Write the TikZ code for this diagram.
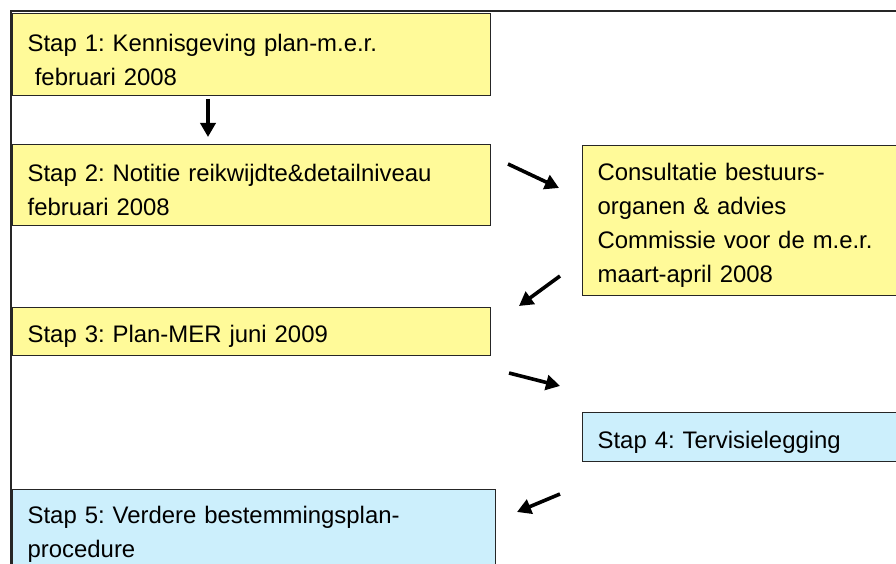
\documentclass[tikz,border=0pt]{standalone}
\usepackage{fontspec}
\setmainfont{Liberation Sans}
\usetikzlibrary{arrows.meta}

\begin{document}
\begin{tikzpicture}[x=1pt,y=-1pt]
\tikzset{basic/.style={draw=black!85, line width=1.3pt, rectangle, anchor=north west, align=left,
  inner xsep=15pt, inner ysep=0pt, font=\fontsize{23.9}{34}\selectfont\frenchspacing,
  execute at begin node={\rule{0pt}{27pt}}}}
\tikzset{geel/.style={basic, fill=yellow!40}}
\tikzset{blauw/.style={basic, fill=cyan!20}}
\tikzset{pijl/.style={draw, line width=3.6pt, -{Triangle[length=14pt, width=15pt]}}}

\clip (0,0) rectangle (896,564);
\draw[line width=1.5pt, black!85] (11,11) rectangle (930,600);

\node[geel, text width=448pt, minimum height=82pt](s1)at(12,13){\rule{0pt}{21pt}Stap 1: Kennisgeving plan-m.e.r.\\\hspace*{0.3em}februari 2008};
\node[geel, text width=448pt, minimum height=81pt](s2)at(12,144){Stap 2: Notitie reikwijdte\&detailniveau\\februari 2008};
\node[geel, text width=320pt, minimum height=150pt](ca)at(582,145){Consultatie bestuurs-\\organen \& advies\\Commissie voor de m.e.r.\\maart-april 2008};
\node[geel, text width=448pt, minimum height=48pt](s3)at(12,307){Stap 3: Plan-MER juni 2009};
\node[blauw, text width=320pt, minimum height=49pt](s4)at(582,412){Stap 4: Tervisielegging};
\node[blauw, text width=453pt, minimum height=80pt](s5)at(12,489){Stap 5: Verdere bestemmingsplan-\\procedure};

\coordinate (p1) at (208,99);
\coordinate (q1) at (208,137);
\coordinate (p2) at (508,164);
\coordinate (q2) at (559,188);
\coordinate (p3) at (560,276);
\coordinate (q3) at (519,306);
\coordinate (p4) at (509,373);
\coordinate (q4) at (560,386);
\coordinate (p5) at (560,494);
\coordinate (q5) at (517,512);

\path[pijl] (p1) -- (q1);
\path[pijl] (p2) -- (q2);
\path[pijl] (p3) -- (q3);
\path[pijl] (p4) -- (q4);
\path[pijl] (p5) -- (q5);
\end{tikzpicture}
\end{document}
